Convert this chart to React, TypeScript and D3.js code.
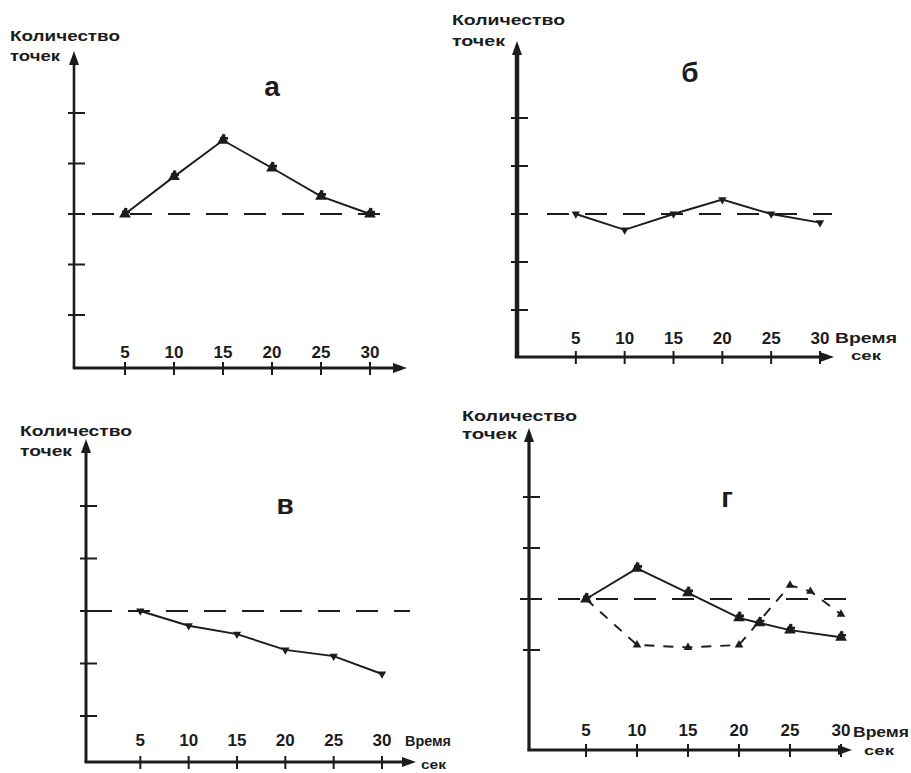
import React from "react";
import * as d3 from "d3";

// ---- data ----
const TIMES = [5, 10, 15, 20, 25, 30];
const TIME_LABELS = ["5", "10", "15", "20", "25", "30"];
const Y_TICKS = [-2, -1, 0, 1, 2];
const Y_TICKS_G = [-1, 0, 1, 2];
const SERIES_A = [0, 0.74, 1.46, 0.91, 0.35, 0];
const SERIES_B = [0, -0.33, 0, 0.3, 0, -0.18];
const SERIES_V = [0, -0.28, -0.44, -0.74, -0.86, -1.2];
const G_SOLID_X = [5, 10, 15, 20, 22, 25, 30];
const G_SOLID = [0, 0.6, 0.12, -0.37, -0.47, -0.61, -0.75];
const G_DASH_X = [5, 10, 15, 20, 25, 27, 30];
const G_DASH = [0, -0.9, -0.95, -0.9, 0.27, 0.15, -0.3];
const Y_TITLE = ["Количество", "точек"];
const X_TITLE = ["Время", "сек"];
const LETTERS = ["а", "б", "в", "г"];

type Series = { xs: number[]; ys: number[]; dashed?: boolean; marker?: string };

const INK = "#1c1c1c";
const FONT = "'Liberation Sans', Arial, sans-serif";

// ---- layout (positions only) ----
const PANELS = [
  {
    letter: LETTERS[0],
    axisX: 74, top: 55, bottom: 368, right: 405,
    xRange: [76, 370], yRange: [315, 113],
    yTicks: Y_TICKS, tickDy: -16,
    t1: { x: 10, y: 35, w: 110 }, t2: { x: 10, y: 56, w: 50 },
    let: { x: 272, y: 86 },
    base: [92, 390],
    xt: null as any,
    axisW: 2.6,
    series: [{ xs: TIMES, ys: SERIES_A, marker: "tri" }] as Series[],
  },
  {
    letter: LETTERS[1],
    axisX: 517, top: 45, bottom: 357, right: 832,
    xRange: [527, 820], yRange: [310, 118],
    yTicks: Y_TICKS, tickDy: -19,
    t1: { x: 452, y: 19, w: 113 }, t2: { x: 452, y: 41, w: 53 },
    let: { x: 690, y: 72 },
    base: [547, 832],
    xt: { x1: 835, y1: 338, w1: 62, x2: 851, y2: 355, w2: 30 },
    axisW: 4.5,
    series: [{ xs: TIMES, ys: SERIES_B, marker: "x" }] as Series[],
  },
  {
    letter: LETTERS[2],
    axisX: 86, top: 443, bottom: 762, right: 414,
    xRange: [92, 382], yRange: [716, 506],
    yTicks: Y_TICKS, tickDy: -22,
    t1: { x: 20, y: 430, w: 112 }, t2: { x: 20, y: 451, w: 52 },
    let: { x: 285, y: 504 },
    base: [90, 410],
    xt: { x1: 405, y1: 741, w1: 46, x2: 421, y2: 764, w2: 25 },
    axisW: 3,
    series: [{ xs: TIMES, ys: SERIES_V, marker: "x" }] as Series[],
  },
  {
    letter: LETTERS[3],
    axisX: 529, top: 432, bottom: 750, right: 850,
    xRange: [535, 841], yRange: [701, 497],
    yTicks: Y_TICKS_G, tickDy: -20,
    t1: { x: 462, y: 415, w: 115 }, t2: { x: 462, y: 434, w: 55 },
    let: { x: 727, y: 497 },
    base: [520, 862],
    xt: { x1: 853, y1: 732, w1: 56, x2: 864, y2: 750, w2: 30 },
    axisW: 3.2,
    series: [
      { xs: G_SOLID_X, ys: G_SOLID, marker: "tri" },
      { xs: G_DASH_X, ys: G_DASH, dashed: true, marker: "dot" },
    ] as Series[],
  },
];

function Marker({ x, y, kind }: { x: number; y: number; kind?: string }) {
  if (kind === "tri") {
    const p = d3.symbol(d3.symbolTriangle, 60)();
    const c = d3.symbol(d3.symbolCross, 36)();
    return (
      <g transform={`translate(${x},${y})`}>
        <path d={p || ""} fill={INK} />
        <path d={c || ""} fill={INK} transform="translate(1,-2)" />
      </g>
    );
  }
  if (kind === "x") {
    const t = d3.symbol(d3.symbolTimes, 90)();
    const p = d3.symbol(d3.symbolTriangle, 30)();
    return (
      <g transform={`translate(${x},${y})`}>
        <path d={t || ""} fill={INK} />
        <path d={p || ""} fill={INK} transform="rotate(180)" />
      </g>
    );
  }
  const p = d3.symbol(d3.symbolTriangle, 32)();
  return <path d={p || ""} fill={INK} transform={`translate(${x},${y})`} />;
}

function Panel({ cfg }: { cfg: (typeof PANELS)[number] }) {
  const x = d3.scaleLinear().domain([0, 30]).range(cfg.xRange);
  const y = d3.scaleLinear().domain([-2, 2]).range(cfg.yRange);
  const { axisX, top, bottom, right } = cfg;
  const y0 = y(0);
  return (
    <g>
      {/* axes */}
      <line x1={axisX} y1={top + 4} x2={axisX} y2={bottom} stroke={INK} strokeWidth={cfg.axisW} />
      <line x1={axisX - cfg.axisW / 2} y1={bottom} x2={right - 6} y2={bottom} stroke={INK} strokeWidth={2.8} />
      <path d={`M${axisX},${top - 4} L${axisX - 5},${top + 10} L${axisX + 5},${top + 10} Z`} fill={INK} />
      <path d={`M${right + 2},${bottom} L${right - 12},${bottom - 5} L${right - 12},${bottom + 5} Z`} fill={INK} />
      {/* y ticks */}
      {cfg.yTicks.map((t) => (
        <line key={"yt" + t} x1={axisX - 6} x2={axisX + 11} y1={y(t)} y2={y(t)} stroke={INK} strokeWidth={2} />
      ))}
      {/* x ticks + labels */}
      {TIMES.map((t, i) => (
        <g key={"xt" + t}>
          <line x1={x(t)} x2={x(t)} y1={bottom - 6} y2={bottom + 7} stroke={INK} strokeWidth={2} />
          <text
            x={x(t)}
            y={bottom + cfg.tickDy}
            textAnchor="middle"
            dominantBaseline="central"
            fontFamily={FONT}
            fontWeight="bold"
            fontSize={17}
            fill={INK}
          >
            {TIME_LABELS[i]}
          </text>
        </g>
      ))}
      {/* baseline */}
      <line x1={cfg.base[0]} x2={cfg.base[1]} y1={y0} y2={y0} stroke={INK} strokeWidth={2.2} strokeDasharray="22 16" />
      {/* series */}
      {cfg.series.map((s, si) => {
        const pts: [number, number][] = s.xs.map((v, i) => [x(v), y(s.ys[i])]);
        const d = d3.line()(pts) || "";
        return (
          <g key={"s" + si}>
            <path
              d={d}
              fill="none"
              stroke={INK}
              strokeWidth={s.dashed ? 1.9 : 1.9}
              strokeDasharray={s.dashed ? "10 9" : undefined}
            />
            {pts.map((p, i) => (
              <Marker key={i} x={p[0]} y={p[1]} kind={s.marker} />
            ))}
          </g>
        );
      })}
      {/* titles */}
      <text x={cfg.t1.x} y={cfg.t1.y} dominantBaseline="central" fontFamily={FONT} fontWeight="bold" fontSize={15} textLength={cfg.t1.w} lengthAdjust="spacingAndGlyphs" fill={INK}>
        {Y_TITLE[0]}
      </text>
      <text x={cfg.t2.x} y={cfg.t2.y} dominantBaseline="central" fontFamily={FONT} fontWeight="bold" fontSize={14} textLength={cfg.t2.w} lengthAdjust="spacingAndGlyphs" fill={INK}>
        {Y_TITLE[1]}
      </text>
      {cfg.xt && (
        <g>
          <text x={cfg.xt.x1} y={cfg.xt.y1} dominantBaseline="central" fontFamily={FONT} fontWeight="bold" fontSize={14} textLength={cfg.xt.w1} lengthAdjust="spacingAndGlyphs" fill={INK}>
            {X_TITLE[0]}
          </text>
          <text x={cfg.xt.x2} y={cfg.xt.y2} dominantBaseline="central" fontFamily={FONT} fontWeight="bold" fontSize={13} textLength={cfg.xt.w2} lengthAdjust="spacingAndGlyphs" fill={INK}>
            {X_TITLE[1]}
          </text>
        </g>
      )}
      <text x={cfg.let.x} y={cfg.let.y} textAnchor="middle" dominantBaseline="central" fontFamily={FONT} fontWeight="bold" fontSize={28} fill={INK}>
        {cfg.letter}
      </text>
    </g>
  );
}

export default function App() {
  return (
    <svg
      width={911}
      height={773}
      viewBox="0 0 911 773"
      style={{ position: "absolute", left: 0, top: 0, background: "#fff" }}
    >
      <rect width={911} height={773} fill="#fff" />
      {PANELS.map((p, i) => (
        <Panel key={i} cfg={p} />
      ))}
    </svg>
  );
}
